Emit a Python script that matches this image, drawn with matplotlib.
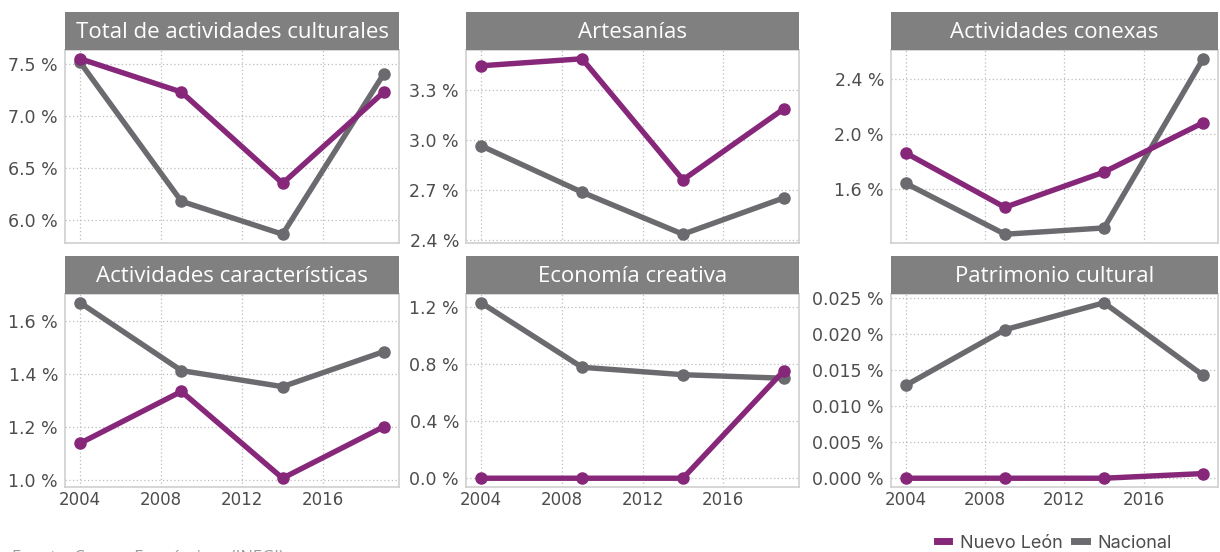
import matplotlib.pyplot as plt
from matplotlib.lines import Line2D
from matplotlib.ticker import FuncFormatter

# Years of the economic censuses
years = [2004, 2009, 2014, 2019]

# Panel titles (row by row)
titles = ["Total de actividades culturales", "Artesanías", "Actividades conexas",
          "Actividades características", "Economía creativa", "Patrimonio cultural"]

# Share of GDP (%), Nuevo León
nl_total = [7.555, 7.234, 6.353, 7.234]
nl_artesanias = [3.444, 3.486, 2.760, 3.186]
nl_conexas = [1.861, 1.464, 1.722, 2.083]
nl_caracteristicas = [1.140, 1.335, 1.008, 1.202]
nl_economia = [0.0, 0.0, 0.0, 0.755]
nl_patrimonio = [0.0, 0.0, 0.0, 0.00065]

# Share of GDP (%), Nacional
nac_total = [7.52, 6.18, 5.862, 7.41]
nac_artesanias = [2.964, 2.686, 2.434, 2.652]
nac_conexas = [1.639, 1.267, 1.313, 2.551]
nac_caracteristicas = [1.669, 1.4135, 1.353, 1.485]
nac_economia = [1.232, 0.779, 0.727, 0.702]
nac_patrimonio = [0.01292, 0.02065, 0.02439, 0.0143]

# y tick breaks per panel
yticks_list = [[6.0, 6.5, 7.0, 7.5], [2.4, 2.7, 3.0, 3.3], [1.6, 2.0, 2.4],
               [1.0, 1.2, 1.4, 1.6], [0.0, 0.4, 0.8, 1.2],
               [0.0, 0.005, 0.010, 0.015, 0.020, 0.025]]
decimals = [1, 1, 1, 1, 1, 3]
xticks = [2004, 2008, 2012, 2016]

nl_series = [nl_total, nl_artesanias, nl_conexas, nl_caracteristicas, nl_economia, nl_patrimonio]
nac_series = [nac_total, nac_artesanias, nac_conexas, nac_caracteristicas, nac_economia, nac_patrimonio]

purple = "#87277A"
gray = "#6B6B6F"
strip = "#808080"
text_col = "#4D4D4D"

W, H = 1220, 552
fig = plt.figure(figsize=(W / 100, H / 100), dpi=100)

# panel geometry in pixels
cols = [(65, 399), (466, 799), (891, 1218)]
rows = [(12, 50, 243), (256, 294, 487)]

for i in range(6):
    r, c = divmod(i, 3)
    x0, x1 = cols[c]
    top, ptop, bottom = rows[r]

    ax = fig.add_axes([x0 / W, 1 - bottom / H, (x1 - x0) / W, (bottom - ptop) / H])
    ax.plot(years, nac_series[i], color=gray, lw=3.9, marker="o", ms=8, solid_capstyle="round")
    ax.plot(years, nl_series[i], color=purple, lw=3.9, marker="o", ms=8, solid_capstyle="round")
    ax.margins(x=0.05, y=0.05)

    ax.set_yticks(yticks_list[i])
    d = decimals[i]
    ax.yaxis.set_major_formatter(FuncFormatter(lambda v, p, d=d: f"{v:.{d}f} %"))
    ax.set_xticks(xticks)
    ax.grid(True, linestyle=(0, (1, 2)), color="#BDBDBD", lw=0.9)
    ax.tick_params(length=0, labelsize=12.5, labelcolor=text_col, pad=5)
    if r == 0:
        ax.tick_params(labelbottom=False)
    else:
        ax.tick_params(axis="x", labelsize=12, pad=3)
    for s in ax.spines.values():
        s.set_color("#CFCFCF")
        s.set_linewidth(1.2)

    # gray strip with the panel title
    hx = fig.add_axes([x0 / W, 1 - ptop / H, (x1 - x0) / W, (ptop - top) / H])
    hx.set_facecolor(strip)
    hx.set_xticks([])
    hx.set_yticks([])
    for s in hx.spines.values():
        s.set_visible(False)
    hx.text(0.5, 0.47, titles[i], ha="center", va="center", color="white",
            fontsize=16, family="Open Sans", transform=hx.transAxes)

# legend bottom right
handles = [Line2D([], [], color=purple, lw=5), Line2D([], [], color=gray, lw=5)]
fig.legend(handles, ["Nuevo León", "Nacional"], loc="center right",
           bbox_to_anchor=(1188 / W, 1 - 543 / H), ncol=2, frameon=False,
           handlelength=0.7, handletextpad=0.6, columnspacing=0.6,
           prop={"family": "Inter", "size": 13}, labelcolor=text_col)

# source note, cut by the bottom edge as in the original
fig.text(12 / W, 1 - 549 / H, "Fuente: Censos Económicos (INEGI)", ha="left", va="top",
         fontsize=12, color="#9A9A9A", family="Open Sans")

fig.savefig("out.png", dpi=100)
